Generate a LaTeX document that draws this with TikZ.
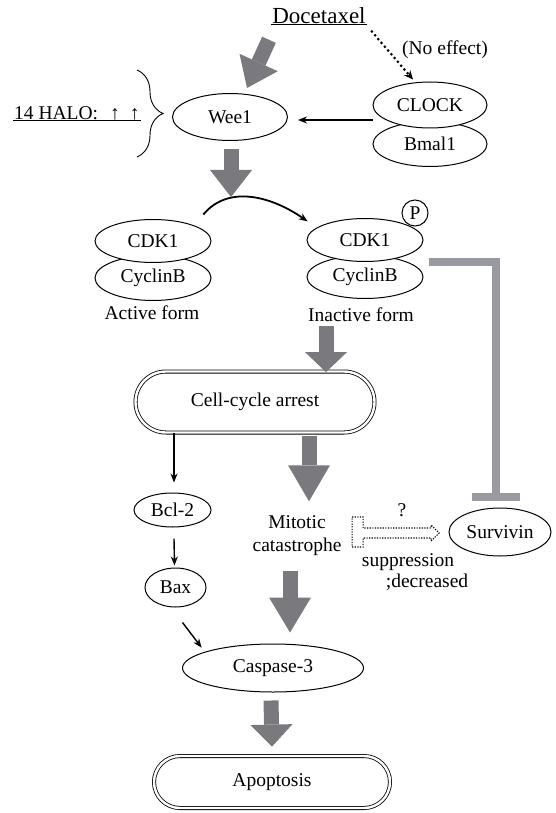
\documentclass[tikz,border=0pt]{standalone}
\usepackage{fontspec}
\setmainfont{Liberation Serif}
\usetikzlibrary{arrows.meta,shapes.geometric,shapes.misc,decorations.pathreplacing}

\definecolor{fatgray}{RGB}{122,122,126}
\definecolor{inhgray}{RGB}{152,154,160}

\tikzset{
  ell/.style={ellipse,draw,line width=1pt,fill=white,inner sep=0pt},
  pill/.style={rounded rectangle,draw,line width=0.8pt,double=white,double distance=2.4pt,inner sep=0pt},
  txt/.style={inner sep=1pt},
  fatarrow/.style={draw=fatgray,line width=15pt,-{Triangle[width=42pt 0 0,length=#1 0 0,line width=0pt]}},
  fatarrow/.default=26pt,
  thinarrow/.style={line width=1.4pt,->},
  dotarrow/.style={line width=3pt,line cap=round,dash pattern=on 0pt off 5pt,-{Stealth[length=9pt,width=8pt]}},
  hollowdot/.style={line width=1.1pt,dash pattern=on 1.2pt off 1.4pt},
  inhib/.style={draw=inhgray,line width=8pt},
}

\begin{document}
\begin{tikzpicture}[x=1pt,y=-1pt,>={Stealth[length=9pt,width=7pt]},
  every node/.style={font=\fontsize{19.5pt}{23pt}\selectfont}]
\useasboundingbox (0,0) rectangle (555,813);

% top part
\node[txt,font=\fontsize{23pt}{27pt}\selectfont] (doc) at (319,15.5) {Docetaxel};
\draw[line width=0.9pt] ([yshift=-1.5pt]doc.base west) -- ([yshift=-1.5pt]doc.base east);
\node[ell,minimum width=115pt,minimum height=47pt] (wee) at (230,117) {Wee1};
\node[ell,minimum width=114pt,minimum height=45pt] (bmal) at (430,144) {Bmal1};
\node[ell,minimum width=114pt,minimum height=46pt] (clock) [above of=bmal,node distance=39pt] {CLOCK};
\node[txt] (noeff) at (445,50) {(No effect)};

\node[txt,anchor=west] (halo) at (13,113) {14 HALO:\hspace{12pt}↑\hspace{10pt}↑\hspace{12pt}};
\draw[line width=0.9pt] ([yshift=-1.5pt]halo.base west) -- ([yshift=-1.5pt]halo.base east);
\draw[decorate,decoration={brace,amplitude=26pt},line width=0.9pt]
  ([xshift=-35pt,yshift=47pt]wee.west) -- ([xshift=-35pt,yshift=-40pt]wee.west);

\draw[fatarrow=28pt] ([xshift=-50pt,yshift=-15pt]doc.south) -- ([xshift=17pt,yshift=5pt]wee.north);
\draw[dotarrow] ([xshift=5pt,yshift=-16pt]doc.east) -- ([xshift=-17pt,yshift=2pt]clock.north);
\draw[->,line width=1.6pt] ([yshift=-15pt]clock.west) -- ([xshift=10pt,yshift=-3pt]wee.east);

\coordinate (phos) at (231,197);
\draw[fatarrow=27pt] ([xshift=1pt,yshift=-8pt]wee.south) -- (phos);

% CDK1 / CyclinB
\node[ell,minimum width=116pt,minimum height=45pt] (cycA) at (153,278) {CyclinB};
\node[ell,minimum width=116pt,minimum height=43pt] (cdkA) [above of=cycA,node distance=37pt] {CDK1};
\node[txt] (actlbl) at (152,313) {Active form};

\node[ell,minimum width=116pt,minimum height=43pt] (cycI) at (365,277) {CyclinB};
\node[ell,minimum width=116pt,minimum height=43pt] (cdkI) [above of=cycI,node distance=37pt] {CDK1};
\node[circle,draw,line width=1pt,fill=white,minimum size=26pt,inner sep=0pt] (p) at (415,213) {P};
\node[txt] (inactlbl) at (361,315) {Inactive form};

\draw[->,line width=1.8pt] ([xshift=9pt,yshift=11pt]cdkA.north east)
  to[out=50,in=145] ([xshift=-16pt,yshift=3pt]cdkI.north west);

% arrest and below
\node[pill,minimum width=239pt,minimum height=61pt] (cell) at (255,402) {Cell-cycle arrest};
\draw[fatarrow=20pt] ([xshift=-35pt,yshift=-3pt]inactlbl.south) -- ([xshift=71pt,yshift=-1pt]cell.north);

\node[ell,minimum width=77pt,minimum height=34pt] (bcl) at (172.5,510) {Bcl-2};
\node[ell,minimum width=61pt,minimum height=39pt] (bax) at (175.5,587.5) {Bax};
\node[txt,align=center] (mit) at (297,535.5) {Mitotic\\catastrophe};
\node[ell,minimum width=102pt,minimum height=48pt] (surv) at (500,532) {Survivin};
\node[ell,minimum width=181pt,minimum height=48pt] (casp) at (273,668) {Caspase-3};
\node[pill,minimum width=236pt,minimum height=52pt] (apop) at (272,782) {Apoptosis};

\draw[thinarrow] ([xshift=-81pt]cell.south) -- ([xshift=1.5pt,yshift=10pt]bcl.north);
\draw[thinarrow] ([xshift=1.5pt,yshift=-11pt]bcl.south) -- ([xshift=-1pt,yshift=2pt]bax.north);
\draw[thinarrow] ([xshift=7pt,yshift=-15pt]bax.south) -- ([xshift=-7pt,yshift=3pt]casp.north west);

\draw[fatarrow=36pt] ([xshift=54pt,yshift=-3pt]cell.south) -- ([xshift=12pt,yshift=13pt]mit.north);
\draw[fatarrow=35pt] ([xshift=-7pt,yshift=-14pt]mit.south) -- ([xshift=17pt,yshift=11pt]casp.north);
\draw[fatarrow=22pt] ([xshift=-2pt,yshift=-8pt]casp.south) -- ([yshift=9pt]apop.north);

% survivin
\draw[inhib] ([xshift=5pt,yshift=15pt]cycI.east) -| ([xshift=-4pt,yshift=11pt]surv.north);
\draw[inhib] ([xshift=-28pt,yshift=11pt]surv.north) -- ([xshift=20pt,yshift=11pt]surv.north);

\draw[hollowdot] ([xshift=9.5pt,yshift=18.5pt]mit.east) -- ++(11,0) -- ++(0,11) -- ++(68,0)
  -- ++(0,-3) -- ++(8,8) -- ++(-8,8) -- ++(0,-3) -- ++(-68,0) -- ++(0,9) -- ++(-11,0) -- cycle;
\node[txt] (q) at (402,510) {?};
\node[txt] (supp) at (408,562) {suppression};
\node[txt] (decr) at (427,582) {;decreased};

\end{tikzpicture}
\end{document}
